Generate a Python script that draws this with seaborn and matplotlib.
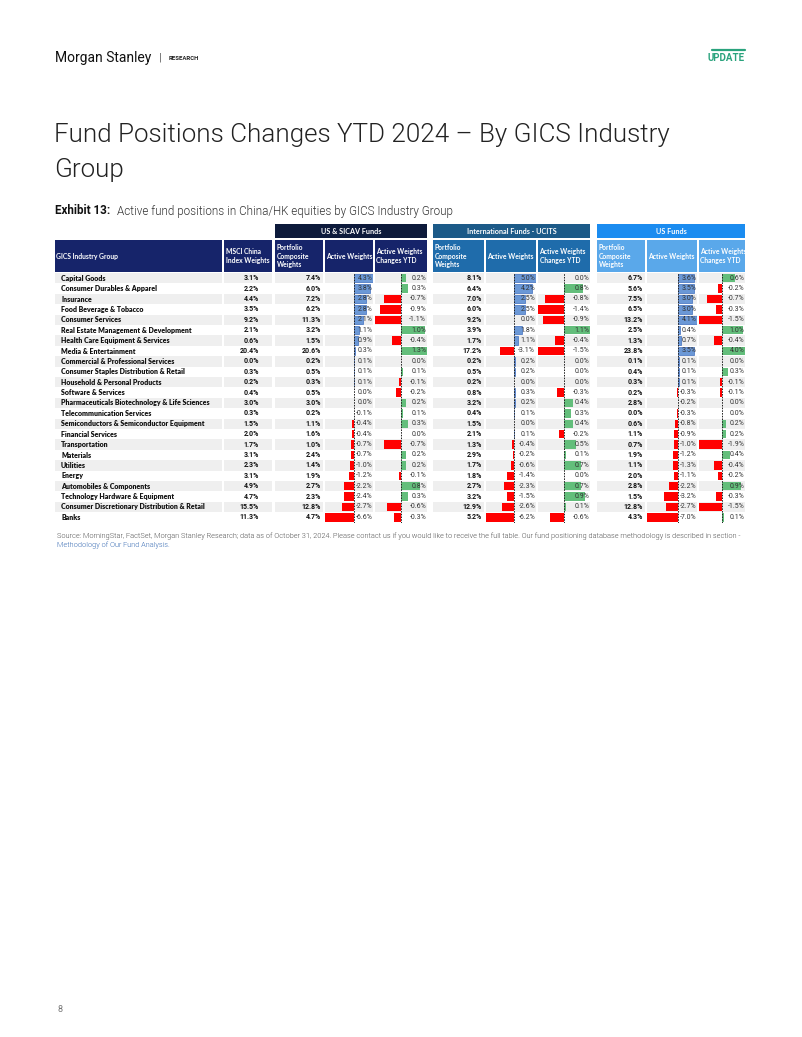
import numpy as np
import pandas as pd
import matplotlib
matplotlib.use('Agg')
import matplotlib.pyplot as plt
import matplotlib.patches as mpatches
import seaborn as sns

industries = [
    'Capital Goods', 'Consumer Durables & Apparel', 'Insurance', 'Food Beverage & Tobacco',
    'Consumer Services', 'Real Estate Management & Development', 'Health Care Equipment & Services',
    'Media & Entertainment', 'Commercial & Professional Services', 'Consumer Staples Distribution & Retail',
    'Household & Personal Products', 'Software & Services', 'Pharmaceuticals Biotechnology & Life Sciences',
    'Telecommunication Services', 'Semiconductors & Semiconductor Equipment', 'Financial Services',
    'Transportation', 'Materials', 'Utilities', 'Energy', 'Automobiles & Components',
    'Technology Hardware & Equipment', 'Consumer Discretionary Distribution & Retail', 'Banks',
]
msci_weights = [3.1, 2.2, 4.4, 3.5, 9.2, 2.1, 0.6, 20.4, 0.0, 0.3, 0.2, 0.4,
                3.0, 0.3, 1.5, 2.0, 1.7, 3.1, 2.3, 3.1, 4.9, 4.7, 15.5, 11.3]

# US & SICAV funds
us_pcw = [7.4, 6.0, 7.2, 6.2, 11.3, 3.2, 1.5, 20.6, 0.2, 0.5, 0.3, 0.5,
          3.0, 0.2, 1.1, 1.6, 1.0, 2.4, 1.4, 1.9, 2.7, 2.3, 12.8, 4.7]
us_aw = [4.3, 3.8, 2.8, 2.8, 2.1, 1.1, 0.9, 0.3, 0.1, 0.1, 0.1, 0.0,
         0.0, -0.1, -0.4, -0.4, -0.7, -0.7, -1.0, -1.2, -2.2, -2.4, -2.7, -6.6]
us_chg = [0.2, 0.3, -0.7, -0.9, -1.1, 1.0, -0.4, 1.3, 0.0, 0.1, -0.1, -0.2,
          0.2, 0.1, 0.3, 0.0, -0.7, 0.2, 0.2, -0.1, 0.8, 0.3, -0.6, -0.3]

# International funds - UCITS
intl_pcw = [8.1, 6.4, 7.0, 6.0, 9.2, 3.9, 1.7, 17.2, 0.2, 0.5, 0.2, 0.8,
            3.2, 0.4, 1.5, 2.1, 1.3, 2.9, 1.7, 1.8, 2.7, 3.2, 12.9, 5.2]
intl_aw = [5.0, 4.2, 2.5, 2.5, 0.0, 1.8, 1.1, -3.1, 0.2, 0.2, 0.0, 0.3,
           0.2, 0.1, 0.0, 0.1, -0.4, -0.2, -0.6, -1.4, -2.3, -1.5, -2.6, -6.2]
intl_chg = [0.0, 0.8, -0.8, -1.4, -0.9, 1.1, -0.4, -1.5, 0.0, 0.0, 0.0, -0.3,
            0.4, 0.3, 0.4, -0.2, 0.5, 0.1, 0.7, 0.0, 0.7, 0.9, 0.1, -0.6]

# US funds
usf_pcw = [6.7, 5.6, 7.5, 6.5, 13.2, 2.5, 1.3, 23.8, 0.1, 0.4, 0.3, 0.2,
           2.8, 0.0, 0.6, 1.1, 0.7, 1.9, 1.1, 2.0, 2.8, 1.5, 12.8, 4.3]
usf_aw = [3.6, 3.5, 3.0, 3.0, 4.1, 0.4, 0.7, 3.5, 0.1, 0.1, 0.1, -0.3,
          -0.2, -0.3, -0.8, -0.9, -1.0, -1.2, -1.3, -1.1, -2.2, -3.2, -2.7, -7.0]
usf_chg = [0.6, -0.2, -0.7, -0.3, -1.5, 1.0, -0.4, 4.0, 0.0, 0.3, -0.1, -0.1,
           0.0, 0.0, 0.2, 0.2, -1.9, 0.4, -0.4, -0.2, 0.9, -0.3, -1.5, 0.1]

group_names = ['US & SICAV Funds', 'International Funds - UCITS', 'US Funds']

# ---- style ----
sns.set_theme(style='white')
plt.rcParams['font.family'] = ['Lato', 'DejaVu Sans']
TABLE_FONT = ['Lato', 'DejaVu Sans']
NUM_FONT = ['Roboto', 'DejaVu Sans']
LIGHT_FONT = ['Roboto', 'DejaVu Sans']

NAVY = '#16246a'
DARK = '#0d1a3b'
INTL_GRP = '#1c5a88'
INTL_COL = '#1f6cab'
USF_GRP = '#1b8cf0'
USF_COL = '#5aa8ea'
BLUE = '#6b98d6'
GREEN = '#63be7b'
RED = '#ff0000'
STRIPE = '#efefef'

W, H = 802, 1037
fig = plt.figure(figsize=(W / 100, H / 100), dpi=100)
bg = fig.add_axes([0, 0, 1, 1])
bg.set_xlim(0, W)
bg.set_ylim(H, 0)
bg.axis('off')


def fig_rect(x0, y0, w, h):
    return [x0 / W, 1 - (y0 + h) / H, w / W, h / H]


# page header
bg.text(55, 58, 'Morgan Stanley', fontsize=10, color='#111111', va='center', ha='left',
        family=LIGHT_FONT)
bg.text(160, 58, '|', fontsize=8, color='#555555', va='center', ha='center', family=LIGHT_FONT)
bg.text(169, 58, 'RESEARCH', fontsize=4.3, color='#222222', va='center', ha='left', weight='bold',
        family=LIGHT_FONT)
bg.plot([712, 745], [49.5, 49.5], color='#2aa37d', lw=1.6)
bg.text(745, 58, 'UPDATE', fontsize=7, color='#2aa37d', va='center', ha='right', weight='bold',
        family=LIGHT_FONT)

bg.text(54, 135, 'Fund Positions Changes YTD 2024 \u2013 By GICS Industry', fontsize=18.7,
        color='#222222', va='center', ha='left', weight=300, family=LIGHT_FONT)
bg.text(54, 170, 'Group', fontsize=18.7, color='#222222', va='center', ha='left', weight=300,
        family=LIGHT_FONT)

bg.text(55, 211, 'Exhibit 13:', fontsize=8.4, color='#111111', va='center', ha='left', weight='bold',
        family=LIGHT_FONT)
bg.text(117, 211, 'Active fund positions in China/HK equities by GICS Industry Group', fontsize=8.4,
        color='#333333', va='center', ha='left', weight=300, family=LIGHT_FONT)

# ---- table geometry ----
n = len(industries)
top = 273
rh = 10.4
cols = [
    # (x0, x1, header, kind, header colour)
    (55, 222, 'GICS Industry Group', 'label', NAVY),
    (224, 272, 'MSCI China\nIndex Weights', 'msci', NAVY),
    (275, 323, 'Portfolio\nComposite\nWeights', 'pcw', NAVY),
    (325, 373, 'Active Weights', 'aw', NAVY),
    (375, 427, 'Active Weights\nChanges YTD', 'chg', NAVY),
    (433, 484, 'Portfolio\nComposite\nWeights', 'pcw', INTL_COL),
    (486, 536, 'Active Weights', 'aw', INTL_COL),
    (538, 590, 'Active Weights\nChanges YTD', 'chg', INTL_COL),
    (597, 645, 'Portfolio\nComposite\nWeights', 'pcw', USF_COL),
    (647, 697, 'Active Weights', 'aw', USF_COL),
    (699, 745, 'Active Weights\nChanges YTD', 'chg', USF_COL),
]
col_values = [industries, msci_weights, us_pcw, us_aw, us_chg, intl_pcw, intl_aw, intl_chg,
              usf_pcw, usf_aw, usf_chg]
groups = [(275, 427, DARK), (433, 590, INTL_GRP), (597, 745, USF_GRP)]

for (gx0, gx1, gc), gname in zip(groups, group_names):
    bg.add_patch(mpatches.Rectangle((gx0, 224), gx1 - gx0, 14, color=gc, lw=0))
    bg.text((gx0 + gx1) / 2, 231, gname, fontsize=5.2, color='white', weight='bold',
            ha='center', va='center', family=TABLE_FONT)

for x0, x1, hdr, kind, hc in cols:
    bg.add_patch(mpatches.Rectangle((x0, 239.5), x1 - x0, 32.5, color=hc, lw=0))
    bg.text(x0 + 1.5, 256, hdr, fontsize=4.85, color='white', weight='bold', ha='left', va='center',
            linespacing=1.25, family=TABLE_FONT)

for i in range(n):
    if i % 2 == 0:
        for x0, x1, _, _, _ in cols:
            bg.add_patch(mpatches.Rectangle((x0, top + i * rh), x1 - x0, rh, color=STRIPE, lw=0))

for (x0, x1, _, kind, _), vals in zip(cols, col_values):
    for i, v in enumerate(vals):
        yc = top + (i + 0.5) * rh
        if kind == 'label':
            bg.text(x0 + 6, yc, v, fontsize=5.0, weight=800, color='#111111',
                    ha='left', va='center', family=TABLE_FONT)
        elif kind == 'msci':
            bg.text(x1 - 13, yc, f'{v:.1f}%', fontsize=5.0, weight='bold', color='#111111',
                    ha='right', va='center', family=NUM_FONT)
        elif kind == 'pcw':
            bg.text(x1 - 2, yc, f'{v:.1f}%', fontsize=5.0, weight='bold', color='#111111',
                    ha='right', va='center', family=NUM_FONT)


def bar_column(vals, x0, x1, kind):
    ax = fig.add_axes(fig_rect(x0, top, x1 - x0, rh * n))
    ax.set_facecolor('none')
    df = pd.DataFrame({'industry': industries, 'value': vals})
    df['sign'] = np.where(df['value'] < 0, 'neg', 'pos')
    pos_col = BLUE if kind == 'aw' else GREEN
    sns.barplot(data=df, x='value', y='industry', hue='sign', hue_order=['pos', 'neg'],
                palette={'pos': pos_col, 'neg': RED}, dodge=False, legend=False, saturation=1,
                orient='h', width=0.8, ax=ax, linewidth=0)
    for p in ax.patches:
        if p.get_width() > 0 and kind == 'aw':
            p.set_edgecolor('#3f6fc0')
            p.set_linewidth(0.5)
    if kind == 'aw':
        lo, hi = min(vals), max(vals)
        span = hi - lo
        ax.set_xlim(lo - 0.01 * span, hi + 0.01 * span)
    else:
        ax.set_xlim(-1.1, 1.1)
    ax.set_ylim(n - 0.5, -0.5)
    ax.axvline(0, color='#222222', lw=0.7, ls=(0, (1.6, 1.2)))
    for i, v in enumerate(vals):
        ax.text(0.985, i, f'{v:.1f}%', transform=ax.get_yaxis_transform(), ha='right', va='center',
                fontsize=5.0, color='#333333', family=NUM_FONT, clip_on=False)
    ax.axis('off')
    return ax


for (x0, x1, _, kind, _), vals in zip(cols, col_values):
    if kind in ('aw', 'chg'):
        bar_column(vals, x0, x1, kind)

bg.text(57, 536, 'Source: MorningStar, FactSet, Morgan Stanley Research; data as of October 31, 2024. '
        'Please contact us if you would like to receive the full table. Our fund positioning database '
        'methodology is described in section -', fontsize=5.35, color='#555555', ha='left', va='center',
        weight=300, family=LIGHT_FONT)
bg.text(57, 545, 'Methodology of Our Fund Analysis.', fontsize=5.35, color='#3d6fb5', ha='left',
        va='center', weight=300, family=LIGHT_FONT)

bg.text(57, 1010, '8', fontsize=6.5, color='#777777', ha='left', va='center', family=LIGHT_FONT)

fig.savefig('out.png', dpi=100)
